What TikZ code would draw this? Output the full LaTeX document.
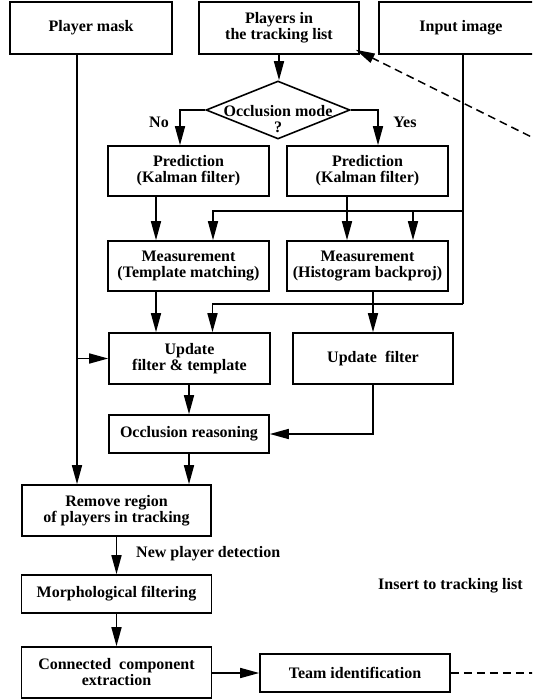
\documentclass[tikz,border=0pt]{standalone}
\usepackage{fontspec}
\setmainfont{Liberation Serif}
\usetikzlibrary{shapes.geometric,arrows.meta,calc}
\begin{document}
\begin{tikzpicture}[x=1pt,y=-1pt,
  tfont/.style={font=\fontsize{16}{16}\selectfont\bfseries},
  box/.style={draw,line width=1.6pt,inner sep=0pt,align=center,tfont},
  dia/.style={draw,shape=diamond,line width=1.6pt,inner sep=0pt,minimum width=144pt,minimum height=58pt},
  txt/.style={inner sep=0pt,align=center,tfont},
  ln/.style={line width=1.6pt},
  arr/.style={line width=1.6pt,-{Triangle[length=19pt,width=10pt]}},
  dsh/.style={line width=1.5pt,dash pattern=on 8pt off 5pt},
  dsharr/.style={dsh,-{Triangle[length=19pt,width=10pt]}}]
\useasboundingbox (0,0) rectangle (532,700);
\clip (0,0) rectangle (532,700);

% boxes
\node[box,minimum width=162pt,minimum height=52pt] (pm) at (91,28) {Player mask};
\node[box,minimum width=160pt,minimum height=52pt] (ptl) at (279,28) {Players in\\the tracking list};
\node[box,minimum width=164pt,minimum height=52pt] (ii) at (461,28) {Input image};
\node[dia] (occ) at (278,110) {};
\node[txt] (occt) at (278,119) {Occlusion mode\\?};
\node[box,minimum width=161pt,minimum height=50pt] (predL) at (188.5,171) {Prediction\\(Kalman filter)};
\node[box,minimum width=161pt,minimum height=50pt] (predR) at (367.5,171) {Prediction\\(Kalman filter)};
\node[box,minimum width=161pt,minimum height=50pt] (measL) at (188.5,266) {Measurement\\(Template matching)};
\node[box,minimum width=161pt,minimum height=50pt] (measR) at (367.5,266) {Measurement\\(Histogram backproj)};
\node[box,minimum width=161pt,minimum height=51pt] (updL) at (189.5,358.5) {Update\\filter \& template};
\node[box,minimum width=160pt,minimum height=51pt] (updR) at (373,358.5) {Update\ \ filter};
\node[box,minimum width=160pt,minimum height=38pt] (occr) at (189,434) {Occlusion reasoning};
\node[box,minimum width=189pt,minimum height=51pt] (rem) at (116.5,510.5) {Remove region\\of players in tracking};
\node[box,minimum width=190pt,minimum height=38pt] (morph) at (116.5,594) {Morphological filtering};
\node[box,minimum width=190pt,minimum height=51pt] (conn) at (116.5,672.5) {Connected\ \ component\\extraction};
\node[box,minimum width=190pt,minimum height=38pt] (team) at (355,673) {Team identification};

% labels
\node[txt] (no) at (159,122) {No};
\node[txt] (yes) at (405,122) {Yes};
\node[txt,anchor=west] (npd) at (136,554) {New player detection};
\node[txt,anchor=west] (ins) at (378,586) {Insert to tracking list};

% helper coordinates
\coordinate (ij1) at (463,211);
\coordinate (ij2) at (463,304);
\coordinate (far1) at (600,171);
\coordinate (far2) at (560,673);
\coordinate (pmx) at ($(pm.south)+(-14,0)$);
\coordinate (mL1) at ($(measL.north)+(-32.5,0)$);
\coordinate (mL2) at ($(measL.north)+(24.5,0)$);
\coordinate (mR1) at ($(measR.north)+(-20.5,0)$);
\coordinate (mR2) at ($(measR.north)+(45.5,0)$);
\coordinate (uL1) at ($(updL.north)+(-33.5,0)$);
\coordinate (uL2) at ($(updL.north)+(23,0)$);

% connectors
\draw[arr] (ptl.south) -- (ptl.south |- occ.north);
\draw[arr] (occ.west) -| ($(predL.north)+(-8.5,0)$);
\draw[arr] (occ.east) -| ($(predR.north)+(10.5,0)$);
\draw[arr] (mL1 |- predL.south) -- (mL1);
\draw[arr] (mR1 |- predR.south) -- (mR1);
\draw[ln] (ii.south -| ij1) -- (ij2);
\draw[arr] (ij1) -| (mL2);
\draw[arr] (ij1 -| mR2) -- (mR2);
\draw[arr] (uL1 |- measL.south) -- (uL1);
\draw[arr] (ij2) -| (uL2);
\draw[arr] (updR.north |- measR.south) -- (updR.north);
\draw[arr] (updL.south -| occr.north) -- (occr.north);
\draw[arr] (updR.south) |- (occr.east);
\draw[arr] (pmx) -- (pmx |- rem.north);
\draw[arr] (pmx |- updL.west) -- (updL.west);
\draw[arr] (occr.south) -- (occr.south |- rem.north);
\draw[arr] (rem.south) -- (rem.south |- morph.north);
\draw[arr] (morph.south) -- (morph.south |- conn.north);
\draw[arr] (conn.east |- team.west) -- (team.west);
\draw[dsh] (team.east) -- (far2);
\draw[dsharr] (far1) -- ($(ptl.south east)+(-4,-5)$);
\end{tikzpicture}
\end{document}
